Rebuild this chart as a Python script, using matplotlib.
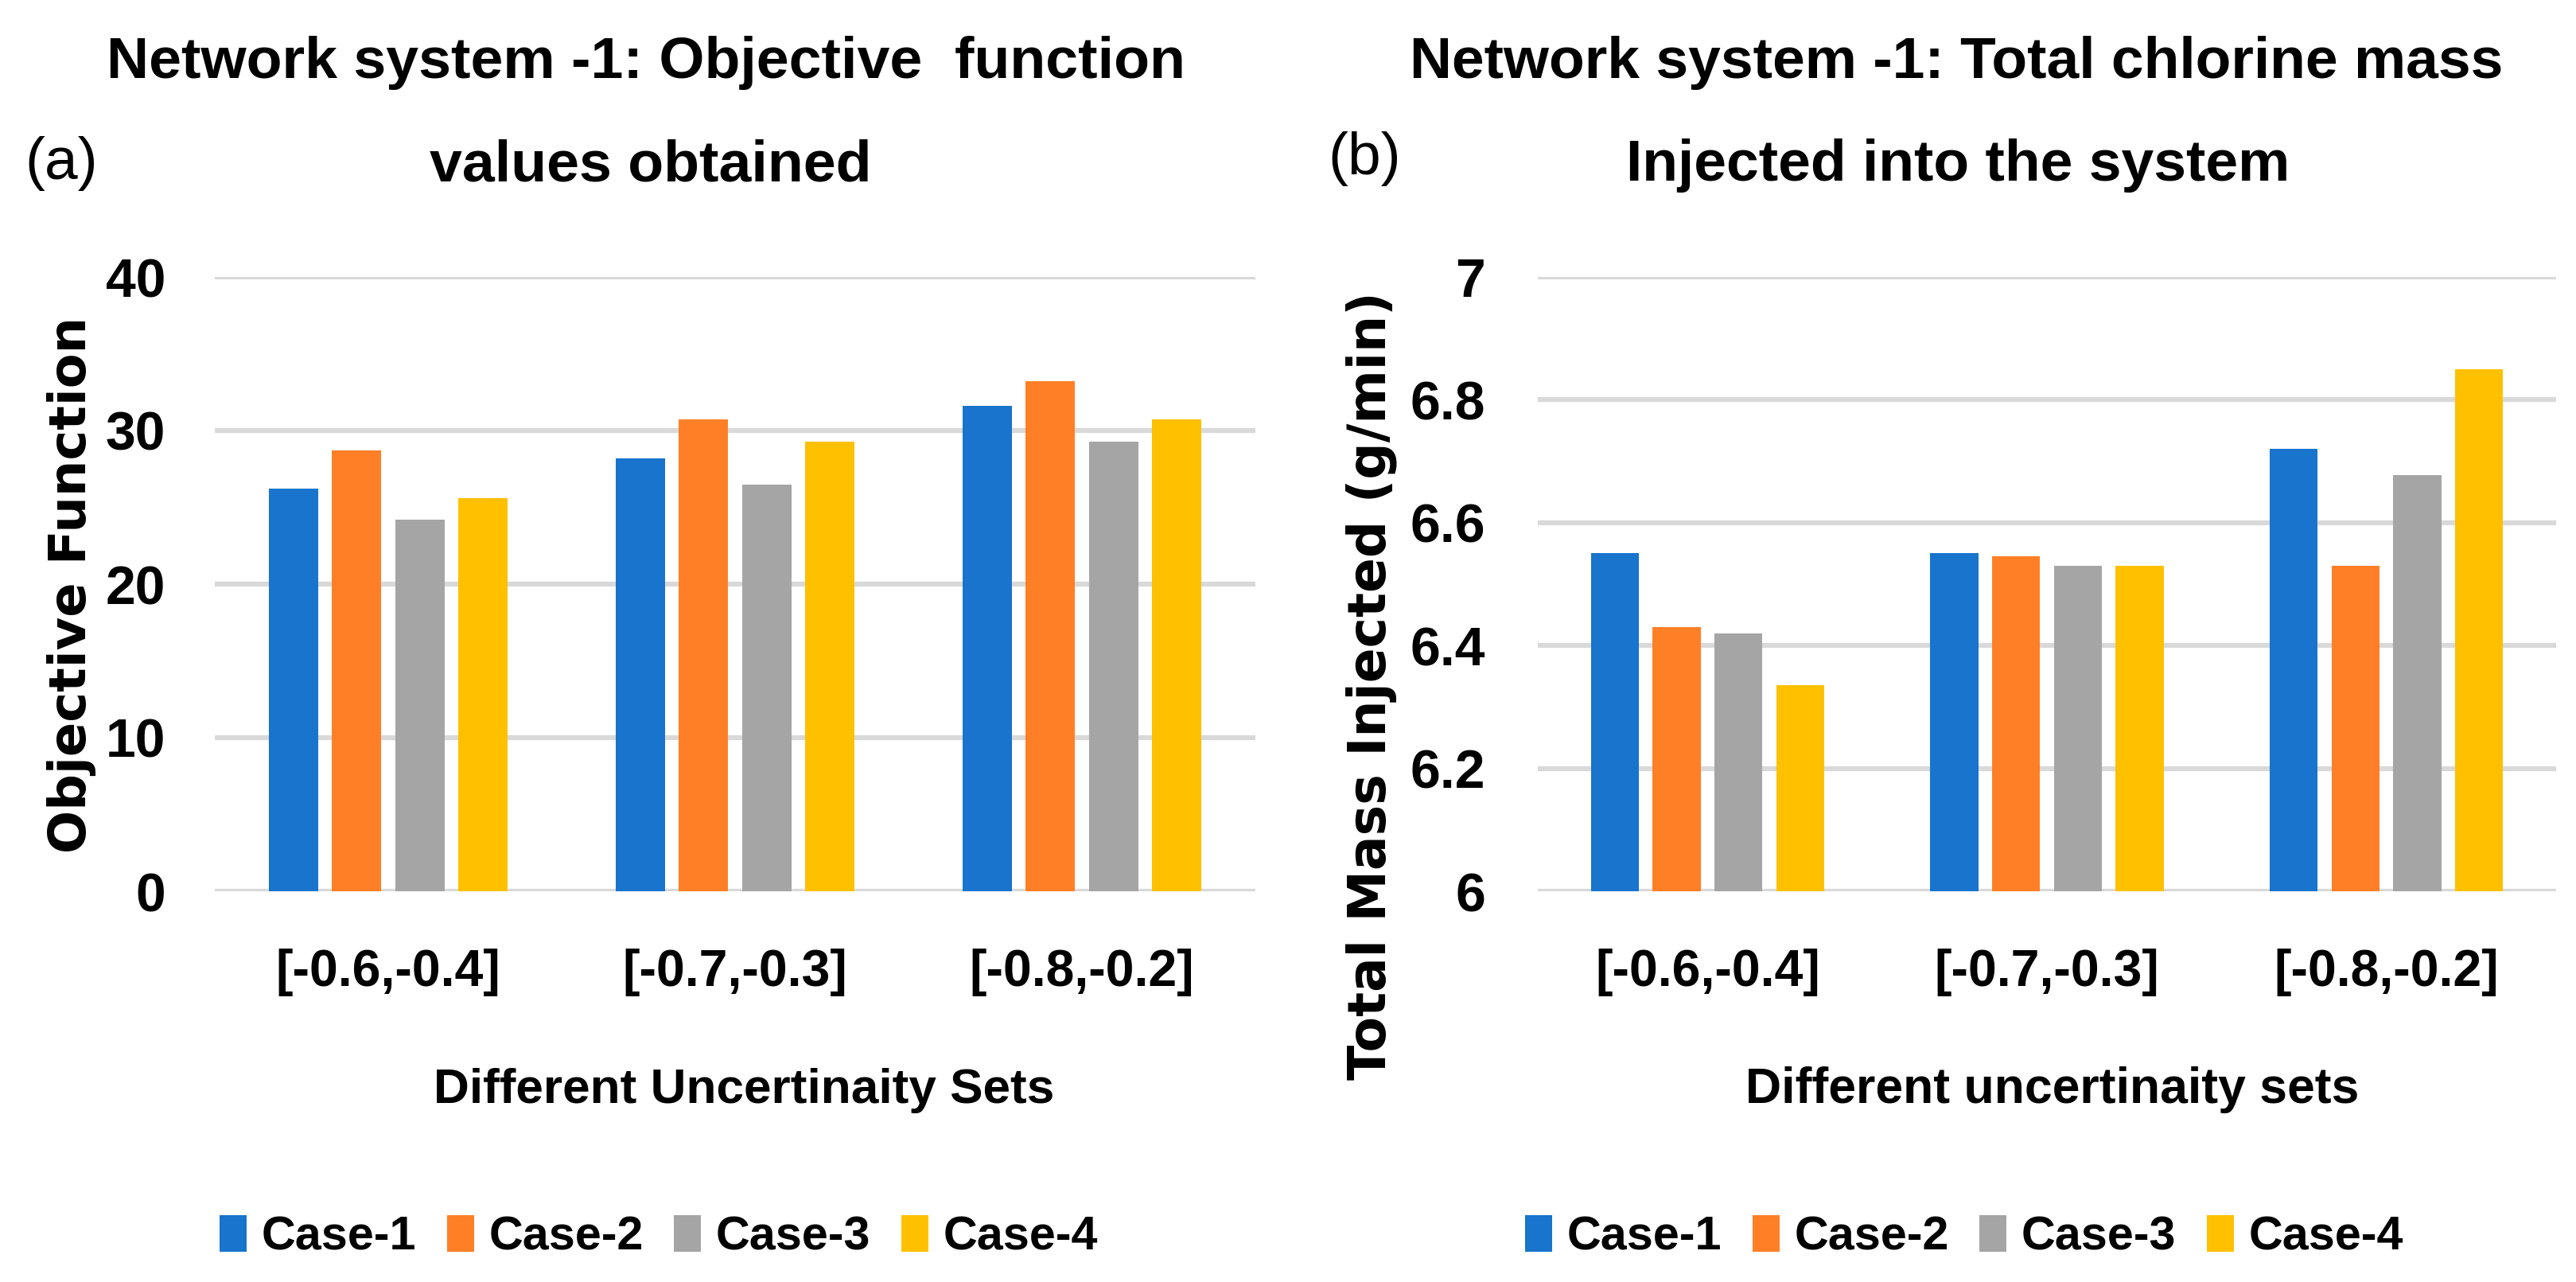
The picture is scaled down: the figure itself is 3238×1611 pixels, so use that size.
import matplotlib
matplotlib.use("Agg")
import matplotlib.pyplot as plt
from matplotlib import font_manager as fm
from matplotlib.patches import Patch
import numpy as np

# ---------------- data ----------------
categories = ["[-0.6,-0.4]", "[-0.7,-0.3]", "[-0.8,-0.2]"]
series_names = ["Case-1", "Case-2", "Case-3", "Case-4"]

obj_case1 = [26.2, 28.2, 31.6]
obj_case2 = [28.7, 30.7, 33.2]
obj_case3 = [24.2, 26.5, 29.3]
obj_case4 = [25.6, 29.3, 30.7]

mass_case1 = [6.55, 6.55, 6.72]
mass_case2 = [6.43, 6.545, 6.53]
mass_case3 = [6.42, 6.53, 6.677]
mass_case4 = [6.335, 6.53, 6.85]

obj_ticks = [0, 10, 20, 30, 40]
obj_tick_labels = ["0", "10", "20", "30", "40"]
mass_ticks = [6, 6.2, 6.4, 6.6, 6.8, 7]
mass_tick_labels = ["6", "6.2", "6.4", "6.6", "6.8", "7"]

colors = ["#1874CD", "#FF7F27", "#A5A5A5", "#FFC000"]

# ---------------- fonts ----------------
avail = {f.name for f in fm.fontManager.ttflist}
narrow = "Liberation Sans Narrow" if "Liberation Sans Narrow" in avail else "Liberation Sans"
NF = [narrow, "DejaVu Sans"]
WF = ["DejaVu Sans"]
GROW = 1.0 if narrow == "Liberation Sans Narrow" else 1.08

W, H = 3238, 1611
fig = plt.figure(figsize=(W / 100, H / 100), dpi=100)
fig.patch.set_facecolor("white")
renderer = fig.canvas.get_renderer()


def text_width(s, family, weight, size):
    t = fig.text(0, 0, s, family=family, fontweight=weight, fontsize=size)
    w = t.get_window_extent(renderer).width
    t.remove()
    return w


def fit(s, family, weight, target_px, base=50.0, grow=1.0):
    return grow * base * target_px / text_width(s, family, weight, base)


grid_col = "#D9D9D9"
bar_w = 0.142
pitch = 0.182

tick_fs = fit("[-0.6,-0.4]", NF, "bold", 262, grow=GROW)
ytick_fs = fit("40", NF, "bold", 70, grow=GROW)


def draw_panel(ax, series, ticks, ticklabels, ylim, ypad):
    x = np.arange(len(categories))
    for i, vals in enumerate(series):
        ax.bar(x + (i - 1.5) * pitch, vals, width=bar_w, color=colors[i],
               zorder=3, linewidth=0)
    ax.set_xlim(-0.5, len(categories) - 0.5)
    ax.set_ylim(*ylim)
    ax.set_yticks(ticks)
    ax.set_yticklabels(ticklabels)
    ax.set_xticks(x)
    ax.set_xticklabels(categories)
    for s in ax.spines.values():
        s.set_visible(False)
    for t in ticks:
        ax.axhline(t, color=grid_col, lw=4.5, zorder=1)
    ax.tick_params(axis="both", length=0)
    for lab in ax.get_yticklabels():
        lab.set_fontfamily(NF)
        lab.set_fontweight("bold")
        lab.set_fontsize(ytick_fs)
    for lab in ax.get_xticklabels():
        lab.set_fontfamily(NF)
        lab.set_fontweight("bold")
        lab.set_fontsize(tick_fs)
    ax.tick_params(axis="x", pad=52)
    ax.tick_params(axis="y", pad=ypad)


# panel a
axa = fig.add_axes([270 / W, 1 - 1120 / H, 1308 / W, 772 / H])
draw_panel(axa, [obj_case1, obj_case2, obj_case3, obj_case4],
           obj_ticks, obj_tick_labels, (0, 40), 44.5)

# panel b
axb = fig.add_axes([1933 / W, 1 - 1120 / H, 1280 / W, 772 / H])
draw_panel(axb, [mass_case1, mass_case2, mass_case3, mass_case4],
           mass_ticks, mass_tick_labels, (6, 7), 47.5)

# y labels
yl_a = "Objective Function"
yl_b = "Total Mass Injected (g/min)"
fig.text(90 / W, 1 - 735 / H, yl_a, rotation=90, ha="center", va="center",
         fontsize=fit(yl_a, WF, "bold", 675), fontweight="bold", family=WF)
fig.text(1724 / W, 1 - 862 / H, yl_b, rotation=90, ha="center", va="center",
         fontsize=fit(yl_b, WF, "bold", 993), fontweight="bold", family=WF)

# x labels
xl_a = "Different Uncertinaity Sets"
xl_b = "Different uncertinaity sets"
fig.text(935 / W, 1 - 1386 / H, xl_a, ha="center", va="baseline",
         fontsize=fit(xl_a, NF, "bold", 723, grow=GROW), fontweight="bold", family=NF)
fig.text(2580 / W, 1 - 1386 / H, xl_b, ha="center", va="baseline",
         fontsize=fit(xl_b, NF, "bold", 714, grow=GROW), fontweight="bold", family=NF)

# titles
ta1 = "Network system -1: Objective  function"
ta2 = "values obtained"
tb1 = "Network system -1: Total chlorine mass"
tb2 = "Injected into the system"
fs_ta = fit(ta1, NF, "bold", 1255, grow=GROW)
fs_tb = fit(tb1, NF, "bold", 1273, grow=GROW)
fig.text(812 / W, 1 - 98 / H, ta1, ha="center", va="baseline",
         fontsize=fs_ta, fontweight="bold", family=NF)
fig.text(818 / W, 1 - 227 / H, ta2, ha="center", va="baseline",
         fontsize=fs_ta, fontweight="bold", family=NF)
fig.text(2459 / W, 1 - 98 / H, tb1, ha="center", va="baseline",
         fontsize=fs_tb, fontweight="bold", family=NF)
fig.text(2461 / W, 1 - 227 / H, tb2, ha="center", va="baseline",
         fontsize=fs_tb, fontweight="bold", family=NF)

# panel letters
fs_lab = fit("(a)", NF, "normal", 85, grow=GROW)
fig.text(31 / W, 1 - 205 / H, "(a)", ha="left", va="center", fontsize=fs_lab,
         family=NF)
fig.text(1669 / W, 1 - 199 / H, "(b)", ha="left", va="center", fontsize=fs_lab,
         family=NF)

# legends
leg_fs = fit("Case-1", NF, "bold", 180, grow=GROW)
leg_px = leg_fs * 100 / 72
txt_total = sum(text_width(s, NF, "bold", leg_fs) for s in series_names)
patch_w, patch_h, tpad = 34, 48, 19
colsp = max(20, (1104 - 4 * (patch_w + tpad) - txt_total) / 3)
handles = [Patch(facecolor=c, edgecolor="none") for c in colors]
for cx in (828 / W, 2469 / W):
    fig.legend(handles, series_names, loc="center", bbox_to_anchor=(cx, 1 - 1555 / H),
               ncol=4, frameon=False, handlelength=patch_w / leg_px,
               handleheight=patch_h / leg_px, handletextpad=tpad / leg_px,
               columnspacing=colsp / leg_px, borderpad=0, borderaxespad=0,
               prop=fm.FontProperties(family=NF, weight="bold", size=leg_fs))

fig.savefig("out.png", dpi=100, facecolor="white")
